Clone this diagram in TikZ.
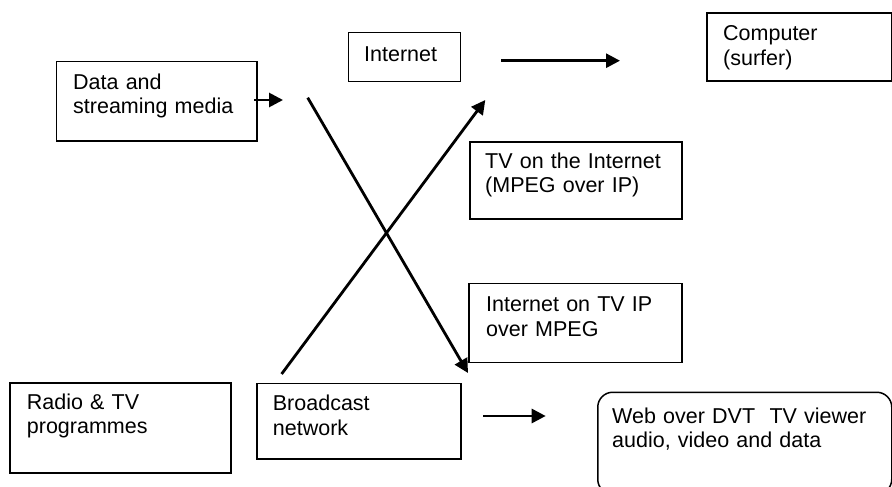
\documentclass[tikz,border=0pt]{standalone}
\usepackage{fontspec}
\setmainfont{Liberation Sans}
\usetikzlibrary{arrows.meta,calc}
\begin{document}
\begin{tikzpicture}[x=1pt,y=-1pt,
  box/.style={draw, line width=1.5pt, rectangle, inner sep=0pt, anchor=north west},
  txt/.style={inner sep=0pt, anchor=base west, align=left, text width=#1,
              font=\fontsize{21.5}{24.5}\selectfont},
  txt/.default=260pt,
  arr/.style={line width=2.8pt, -{Triangle[length=14pt,width=14pt]}}
]
\useasboundingbox (0,0) rectangle (892,487);
\clip (0,0) rectangle (892,487);

% boxes
\node[box, minimum width=200.3pt, minimum height=79pt] (data) at (55.7,61) {};
\node[box, minimum width=112pt, minimum height=49pt] (inet) at (347.5,32) {};
\node[box, minimum width=185pt, minimum height=68pt] (comp) at (706,12.3) {};
\node[box, minimum width=212pt, minimum height=77pt] (tvi) at (469,141) {};
\node[box, minimum width=213pt, minimum height=79pt] (itv) at (468,282.7) {};
\node[box, minimum width=221pt, minimum height=90pt] (radio) at (9,382.3) {};
\node[box, minimum width=204pt, minimum height=75.5pt] (bcast) at (256,382.7) {};
\node[box, rounded corners=15pt, minimum width=294pt, minimum height=102pt] (web) at (597,391.5) {};

% texts
\node[txt] (dataT) at (73,89.3) {Data and\\streaming media};
\node[txt] (inetT) at (364,61.7) {Internet};
\node[txt] (compT) at (723,40.7) {Computer\\(surfer)};
\node[txt] (tviT) at (485,168) {TV on the Internet\\(MPEG over IP)};
\node[txt] (itvT) at (486,311.7) {Internet on TV IP\\over MPEG};
\node[txt] (radioT) at (26.7,409.3) {Radio \& TV\\programmes};
\node[txt] (bcastT) at (272.7,410.7) {Broadcast\\network};
\node[txt] (webT) at (612,423.3) {Web over DVT\ \ TV viewer\\audio, video and data};

% connector end points
\coordinate (dA) at (254,100);
\coordinate (dB) at (283,100);
\coordinate (iA) at (501,60.7);
\coordinate (iB) at (620,60.7);
\coordinate (uA) at (281.6,374);
\coordinate (uB) at (485.3,100);
\coordinate (xA) at (307.7,97.7);
\coordinate (xB) at (468,373);
\coordinate (bA) at (483,416);
\coordinate (bB) at (545.7,416);

% connectors
\draw[arr] (dA) -- (dB);
\draw[arr] (iA) -- (iB);
\draw[arr] (uA) -- (uB);
\draw[arr] (xA) -- (xB);
\draw[arr] (bA) -- (bB);
\end{tikzpicture}
\end{document}
